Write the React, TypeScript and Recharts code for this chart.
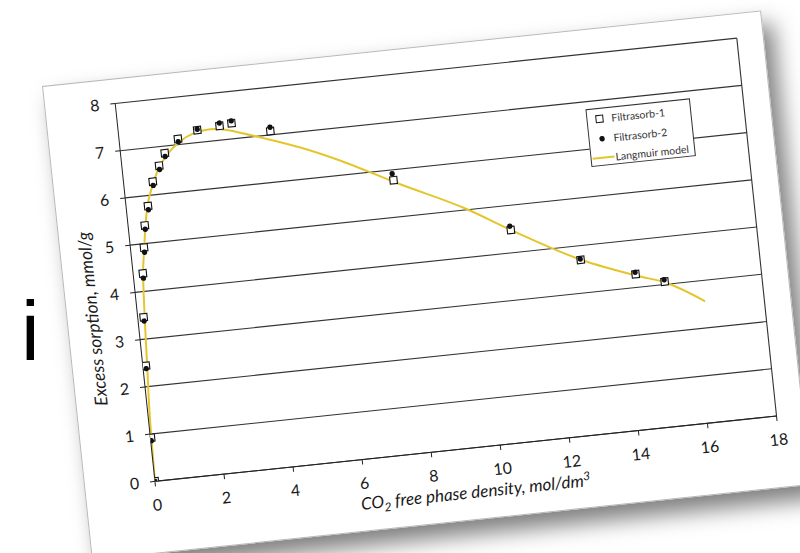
import {
  CartesianGrid,
  ComposedChart,
  Label,
  Legend,
  Line,
  ReferenceLine,
  Scatter,
  XAxis,
  YAxis
} from 'recharts';

const FONT = 'Lato, "Open Sans", sans-serif';
const LINE_COLOR = '#e4c62c';

const X_TICKS = [0, 2, 4, 6, 8, 10, 12, 14, 16, 18];
const Y_TICKS = [0, 1, 2, 3, 4, 5, 6, 7, 8];

const SERIES_NAMES = ['Filtrasorb-1', 'Filtrasorb-2', 'Langmuir model'];

// open squares
const filtrasorb1 = [
  { x: 0, y: 0 },
  { x: 0.02, y: 0.92 },
  { x: 0.09, y: 2.44 },
  { x: 0.17, y: 3.46 },
  { x: 0.28, y: 4.38 },
  { x: 0.39, y: 4.92 },
  { x: 0.48, y: 5.38 },
  { x: 0.63, y: 5.78 },
  { x: 0.84, y: 6.28 },
  { x: 1.07, y: 6.6 },
  { x: 1.27, y: 6.85 },
  { x: 1.69, y: 7.12 },
  { x: 2.27, y: 7.26 },
  { x: 2.92, y: 7.3 },
  { x: 3.27, y: 7.33 },
  { x: 4.36, y: 7.08 },
  { x: 7.74, y: 5.78 },
  { x: 10.95, y: 4.48 },
  { x: 12.86, y: 3.7 },
  { x: 14.39, y: 3.28 },
  { x: 15.2, y: 3.06 }
];

// filled circles
const filtrasorb2 = [
  { x: 0, y: 0 },
  { x: 0.02, y: 0.86 },
  { x: 0.09, y: 2.38 },
  { x: 0.17, y: 3.38 },
  { x: 0.28, y: 4.28 },
  { x: 0.39, y: 4.82 },
  { x: 0.48, y: 5.3 },
  { x: 0.63, y: 5.7 },
  { x: 0.84, y: 6.2 },
  { x: 1.07, y: 6.52 },
  { x: 1.27, y: 6.78 },
  { x: 1.69, y: 7.06 },
  { x: 2.27, y: 7.28 },
  { x: 2.92, y: 7.36 },
  { x: 3.27, y: 7.38 },
  { x: 4.36, y: 7.16 },
  { x: 7.72, y: 5.92 },
  { x: 10.93, y: 4.56 },
  { x: 12.85, y: 3.72 },
  { x: 14.38, y: 3.32 },
  { x: 15.19, y: 3.1 }
];

const langmuir = [
  { x: 0, y: 0 },
  { x: 0.03, y: 0.95 },
  { x: 0.12, y: 2.36 },
  { x: 0.28, y: 4.32 },
  { x: 0.39, y: 4.88 },
  { x: 0.48, y: 5.3 },
  { x: 0.61, y: 5.77 },
  { x: 0.81, y: 6.18 },
  { x: 1.03, y: 6.52 },
  { x: 1.34, y: 6.82 },
  { x: 1.69, y: 7.04 },
  { x: 2.15, y: 7.2 },
  { x: 2.64, y: 7.25 },
  { x: 3.2, y: 7.18 },
  { x: 3.49, y: 7.11 },
  { x: 4.33, y: 6.9 },
  { x: 5.17, y: 6.67 },
  { x: 6.07, y: 6.38 },
  { x: 7.92, y: 5.68 },
  { x: 9.76, y: 5.01 },
  { x: 10.93, y: 4.49 },
  { x: 12.85, y: 3.71 },
  { x: 14.52, y: 3.22 },
  { x: 15.22, y: 3.04 },
  { x: 16.3, y: 2.56 }
];

const SquareDot = ({ cx, cy }: any) => (
  <rect x={cx - 3.6} y={cy - 3.6} width={7.2} height={7.2} fill="#fff" stroke="#111" strokeWidth={1.1} />
);

const FilledDot = ({ cx, cy }: any) => <circle cx={cx} cy={cy} r={2.7} fill="#111" />;

const XTitle = ({ viewBox }: any) => {
  const { x, y } = viewBox;
  return (
    <text x={x + 318} y={y + 50} textAnchor="middle" fontStyle="italic" fontSize={17} fill="#1a1a1a">
      CO
      <tspan dy={4} fontSize={12}>2</tspan>
      <tspan dy={-4}> free phase density, mol/dm</tspan>
      <tspan dy={-6} fontSize={12}>3</tspan>
    </text>
  );
};

const YTitle = ({ viewBox }: any) => {
  const { x, y, width } = viewBox;
  const tx = x + width - 39;
  const ty = y + 212;
  return (
    <text
      x={tx}
      y={ty}
      transform={`rotate(-90 ${tx} ${ty})`}
      textAnchor="middle"
      fontStyle="italic"
      fontSize={17.5}
      fill="#1a1a1a"
    >
      Excess sorption, mmol/g
    </text>
  );
};

function LegendBox({ payload }: any) {
  const entries = SERIES_NAMES.map((name) => (payload ?? []).find((p: any) => p.value === name)).filter(Boolean);
  return (
    <div
      style={{
        position: 'relative',
        width: 105,
        height: 58,
        boxSizing: 'border-box',
        border: '1px solid #333',
        background: '#fff',
        fontFamily: FONT,
        fontSize: 10.5,
        color: '#333'
      }}
    >
      {entries.map((entry: any, i: number) => (
        <div
          key={entry.value}
          style={{ position: 'absolute', left: 0, top: 2 + i * 19.5, height: 16, display: 'flex', alignItems: 'center' }}
        >
          <svg width={24} height={16} style={{ display: 'block' }}>
            {entry.type === 'square' && (
              <rect x={8.5} y={4.5} width={7} height={7} fill="#fff" stroke="#111" strokeWidth={1} />
            )}
            {entry.type === 'circle' && <circle cx={12.5} cy={8} r={2.7} fill="#111" />}
            {entry.type === 'line' && <line x1={1} y1={8} x2={23} y2={8} stroke={LINE_COLOR} strokeWidth={2} />}
          </svg>
          <span style={{ whiteSpace: 'nowrap', lineHeight: '16px' }}>{entry.value}</span>
        </div>
      ))}
    </div>
  );
}

export default function App() {
  return (
    <div style={{ position: 'absolute', left: 0, top: 0, width: 800, height: 553, overflow: 'hidden', background: '#fff' }}>
      <svg width={800} height={553} style={{ position: 'absolute', left: 0, top: 0 }}>
        <text x={21} y={360} fontFamily='"Liberation Sans", Arial, sans-serif' fontSize={84} fill="#000">
          i
        </text>
      </svg>
      <div
        style={{
          position: 'absolute',
          left: 42,
          top: 86,
          width: 721,
          height: 475,
          border: '1px solid #b8b8b8',
          background: '#fff',
          transform: 'rotate(-6deg)',
          transformOrigin: '0 0',
          boxShadow: '10px 14px 22px rgba(0,0,0,0.5)'
        }}
      >
        <ComposedChart
          width={721}
          height={475}
          margin={{ top: 24, right: 26, bottom: 21, left: 30 }}
          style={{ fontFamily: FONT }}
        >
          <CartesianGrid vertical={false} stroke="#333" strokeWidth={1.1} />
          <XAxis
            dataKey="x"
            type="number"
            domain={[0, 18]}
            ticks={X_TICKS}
            allowDataOverflow
            height={50}
            tickSize={5}
            tickMargin={13}
            stroke="#222"
            tick={{ fontSize: 16, fill: '#1a1a1a' }}
          >
            <Label content={<XTitle />} />
          </XAxis>
          <YAxis
            type="number"
            domain={[0, 8]}
            ticks={Y_TICKS}
            allowDataOverflow
            width={40}
            tickSize={5}
            tickMargin={11}
            stroke="#222"
            tick={{ fontSize: 16, fill: '#1a1a1a' }}
          >
            <Label content={<YTitle />} />
          </YAxis>
          <ReferenceLine x={18} stroke="#333" strokeWidth={1.1} />
          <Line
            data={langmuir}
            dataKey="y"
            name="Langmuir model"
            type="monotone"
            stroke={LINE_COLOR}
            strokeWidth={2}
            dot={false}
            legendType="line"
            isAnimationActive={false}
          />
          <Scatter
            data={filtrasorb1}
            dataKey="y"
            name="Filtrasorb-1"
            fill="#fff"
            shape={SquareDot}
            legendType="square"
            isAnimationActive={false}
          />
          <Scatter
            data={filtrasorb2}
            dataKey="y"
            name="Filtrasorb-2"
            fill="#111"
            shape={FilledDot}
            legendType="circle"
            isAnimationActive={false}
          />
          <Legend
            layout="vertical"
            align="center"
            verticalAlign="middle"
            content={<LegendBox />}
            wrapperStyle={{ left: 537, top: 79, width: 105, height: 58 }}
          />
        </ComposedChart>
      </div>
    </div>
  );
}
